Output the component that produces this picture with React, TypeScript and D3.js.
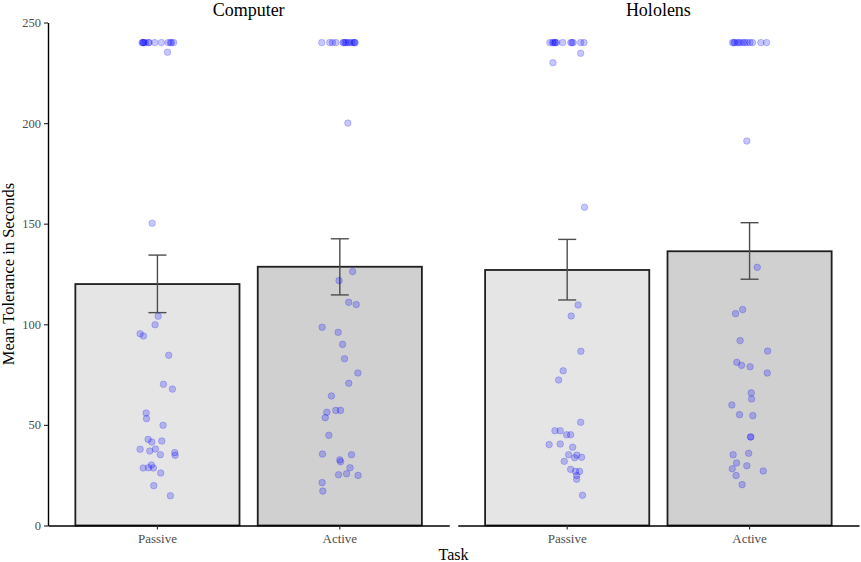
import { useEffect, useRef, useCallback } from "react";
import * as d3 from "d3";

// facets and tasks
const devices = ["Computer", "Hololens"];
const tasks = ["Passive", "Active"];

// bar heights (mean) and error bar limits, per device: [Passive, Active]
const meanComputer = [120.0, 128.6];
const meanHololens = [127.0, 136.3];
const lowComputer = [105.8, 114.6];
const highComputer = [134.4, 142.5];
const lowHololens = [112.1, 122.4];
const highHololens = [142.2, 150.5];

// raw observations (seconds) and their horizontal jitter (in category units)
const compPassiveVal = [
  240, 240, 240, 240, 240, 240, 240, 240, 240, 240, 240, 240, 240, 235.2, 150.2,
  104.0, 99.8, 95.3, 94.2, 84.6, 70.2, 67.8, 55.9, 53.1, 49.8, 42.8, 41.5, 42.0,
  37.9, 37.0, 38.0, 35.2, 36.2, 34.9, 28.6, 28.7, 30.1, 28.6, 26.1, 19.8, 14.8,
];
const compPassiveJit = [
  -0.084, -0.08, -0.075, -0.066, -0.049, -0.046, -0.015, 0.022, 0.059, 0.071, 0.077, 0.089, -0.077, 0.055, -0.029,
  0.004, -0.013, -0.095, -0.077, 0.062, 0.033, 0.082, -0.062, -0.06, 0.031, -0.051, -0.031, 0.024,
  -0.095, -0.042, -0.011, 0.016, 0.095, 0.097, -0.078, -0.049, -0.033, -0.022, 0.018, -0.02, 0.071,
];
const compActiveVal = [
  240, 240, 240, 240, 240, 240, 240, 240, 240, 240, 240, 240, 240, 240, 200.0,
  126.2, 121.7, 110.9, 109.8, 98.5, 96.0, 90.0, 82.9, 75.8, 70.7, 64.4, 57.2, 57.2,
  56.3, 53.6, 44.8, 35.5, 35.2, 32.6, 31.7, 28.7, 25.2, 25.7, 24.9, 21.3, 17.1,
];
const compActiveJit = [
  -0.099, -0.055, -0.04, -0.022, 0.018, 0.029, 0.046, 0.078, 0.084, 0.022, 0.055, 0.066, 0.08, 0.035, 0.044,
  0.07, -0.004, 0.049, 0.09, -0.097, -0.009, 0.015, 0.026, 0.099, 0.049, -0.046, -0.022, 0.004,
  -0.071, -0.08, -0.06, -0.095, 0.064, 0.0, 0.004, 0.056, -0.007, 0.037, 0.1, -0.097, -0.093,
];
const holoPassiveVal = [
  240, 240, 240, 240, 240, 240, 240, 240, 240, 240, 240, 240, 234.7, 230.0, 158.2,
  109.6, 104.1, 86.6, 76.9, 72.3, 51.3, 47.1, 47.1, 45.1, 45.1, 40.2, 40.5, 38.9,
  35.2, 35.0, 33.7, 33.9, 31.9, 27.9, 26.9, 26.9, 24.8, 23.0, 15.0,
];
const holoPassiveJit = [
  -0.095, -0.08, -0.066, -0.058, -0.025, 0.026, 0.033, 0.074, 0.092, -0.076, -0.067, 0.02, 0.074, -0.078, 0.095,
  0.06, 0.022, 0.075, -0.022, -0.047, 0.074, -0.067, -0.038, -0.003, 0.019, -0.099, -0.038, 0.03,
  0.008, 0.053, 0.041, 0.079, -0.016, 0.019, 0.046, 0.068, 0.052, 0.052, 0.084,
];
const holoActiveVal = [
  240, 240, 240, 240, 240, 240, 240, 240, 240, 240, 240, 240, 240, 191.1, 128.3,
  107.3, 105.3, 91.9, 86.7, 81.1, 79.6, 78.9, 75.8, 65.9, 62.9, 59.9, 55.1, 54.6,
  44.0, 44.0, 35.2, 35.9, 31.1, 29.7, 27.1, 28.2, 24.8, 20.3,
];
const holoActiveJit = [
  -0.093, -0.081, -0.068, -0.049, -0.035, -0.013, 0.016, 0.062, 0.093, -0.086, -0.059, -0.026, 0.002, -0.015, 0.042,
  -0.038, -0.077, -0.052, 0.099, -0.07, -0.044, 0.003, 0.097, 0.009, 0.011, -0.097, -0.055, 0.018,
  0.005, 0.007, -0.09, -0.005, -0.071, -0.015, 0.075, -0.095, -0.074, -0.041,
];

const yTicks = [0, 50, 100, 150, 200, 250];

const means = [meanComputer, meanHololens];
const lows = [lowComputer, lowHololens];
const highs = [highComputer, highHololens];
const points = [
  [
    { v: compPassiveVal, j: compPassiveJit },
    { v: compActiveVal, j: compActiveJit },
  ],
  [
    { v: holoPassiveVal, j: holoPassiveJit },
    { v: holoActiveVal, j: holoActiveJit },
  ],
];
const barFill = ["#e5e5e5", "#d0d0d0"];

const W = 861;
const H = 562;
const FONT = "'Liberation Serif', 'Times New Roman', serif";

const App = () => {
  const svgRef = useRef<SVGSVGElement | null>(null);

  const renderChart = useCallback(() => {
    if (!svgRef.current) return;
    document.body.style.margin = "0";

    const margin = { top: 22.5, right: 2, bottom: 36.5, left: 48 };
    const gap = 8.5;
    const panelW = (W - margin.left - margin.right - gap) / 2;
    const bottom = H - margin.bottom;

    const svg = d3.select(svgRef.current);
    svg.selectAll("*").remove();

    const y = d3.scaleLinear().domain([0, 250]).range([bottom, margin.top]);

    // Y axis (left panel only)
    const yAxis = svg
      .append("g")
      .attr("transform", `translate(${margin.left},0)`)
      .call(d3.axisLeft(y).tickValues(yTicks).tickSize(4).tickSizeOuter(0).tickPadding(3));
    yAxis.select(".domain").attr("stroke", "#000").attr("stroke-width", 1.4);
    yAxis.selectAll(".tick line").attr("stroke", "#333").attr("stroke-width", 1.2);
    yAxis
      .selectAll("text")
      .style("font-family", FONT)
      .style("font-size", "12.5px")
      .attr("fill", "#4d4d4d");

    devices.forEach((dev, di) => {
      const x0 = margin.left + di * (panelW + gap);
      const x1 = x0 + panelW;
      const x = d3.scaleBand().domain(tasks).range([x0, x1]).paddingInner(0.1).paddingOuter(0.15);
      const step = x.step();
      const g = svg.append("g");

      // bars
      g.selectAll("rect.bar")
        .data(tasks)
        .enter()
        .append("rect")
        .attr("class", "bar")
        .attr("x", (t) => x(t) || 0)
        .attr("width", x.bandwidth())
        .attr("y", (_t, i) => y(means[di][i]))
        .attr("height", (_t, i) => bottom - y(means[di][i]))
        .attr("fill", (_t, i) => barFill[i])
        .attr("stroke", "#1f1f1f")
        .attr("stroke-width", 1.8);

      // error bars
      tasks.forEach((t, i) => {
        const cx = (x(t) || 0) + x.bandwidth() / 2;
        const eb = g.append("g").attr("stroke", "#4d4d4d").attr("stroke-width", 1.4);
        eb.append("line").attr("x1", cx).attr("x2", cx).attr("y1", y(lows[di][i])).attr("y2", y(highs[di][i]));
        [lows[di][i], highs[di][i]].forEach((v) => {
          eb.append("line")
            .attr("x1", cx - 9)
            .attr("x2", cx + 9)
            .attr("y1", y(v))
            .attr("y2", y(v));
        });
      });

      // jittered points
      tasks.forEach((t, i) => {
        const cx = (x(t) || 0) + x.bandwidth() / 2;
        const p = points[di][i];
        const data = p.v.map((v, k) => ({ v, j: p.j[k] }));
        g.selectAll(`circle.p${i}`)
          .data(data)
          .enter()
          .append("circle")
          .attr("class", `p${i}`)
          .attr("cx", (d) => cx + d.j * step)
          .attr("cy", (d) => y(d.v))
          .attr("r", 3.3)
          .attr("fill", "#0000ff")
          .attr("fill-opacity", 0.22)
          .attr("stroke", "#0000ff")
          .attr("stroke-opacity", 0.22)
          .attr("stroke-width", 0.9);
      });

      // X axis
      const xAxis = svg
        .append("g")
        .attr("transform", `translate(0,${bottom})`)
        .call(d3.axisBottom(x).tickSize(4).tickSizeOuter(0).tickPadding(4));
      xAxis.select(".domain").attr("stroke", "#000").attr("stroke-width", 1.4);
      xAxis.selectAll(".tick line").attr("stroke", "#333").attr("stroke-width", 1.2);
      xAxis
        .selectAll("text")
        .style("font-family", FONT)
        .style("font-size", "13px")
        .attr("fill", "#4d4d4d");

      // facet title
      svg
        .append("text")
        .attr("x", (x0 + x1) / 2)
        .attr("y", 16)
        .attr("text-anchor", "middle")
        .style("font-family", FONT)
        .style("font-size", "18px")
        .attr("fill", "#000")
        .text(dev);
    });

    // axis titles
    svg
      .append("text")
      .attr("x", margin.left + (W - margin.left - margin.right) / 2)
      .attr("y", 560)
      .attr("text-anchor", "middle")
      .style("font-family", FONT)
      .style("font-size", "16px")
      .text("Task");

    svg
      .append("text")
      .attr("transform", `translate(14,${(margin.top + bottom) / 2}) rotate(-90)`)
      .attr("text-anchor", "middle")
      .style("font-family", FONT)
      .style("font-size", "16.5px")
      .text("Mean Tolerance in Seconds");
  }, []);

  useEffect(() => {
    renderChart();
  }, [renderChart]);

  return (
    <svg ref={svgRef} width={W} height={H} style={{ display: "block", background: "#fff" }}></svg>
  );
};

export default App;
